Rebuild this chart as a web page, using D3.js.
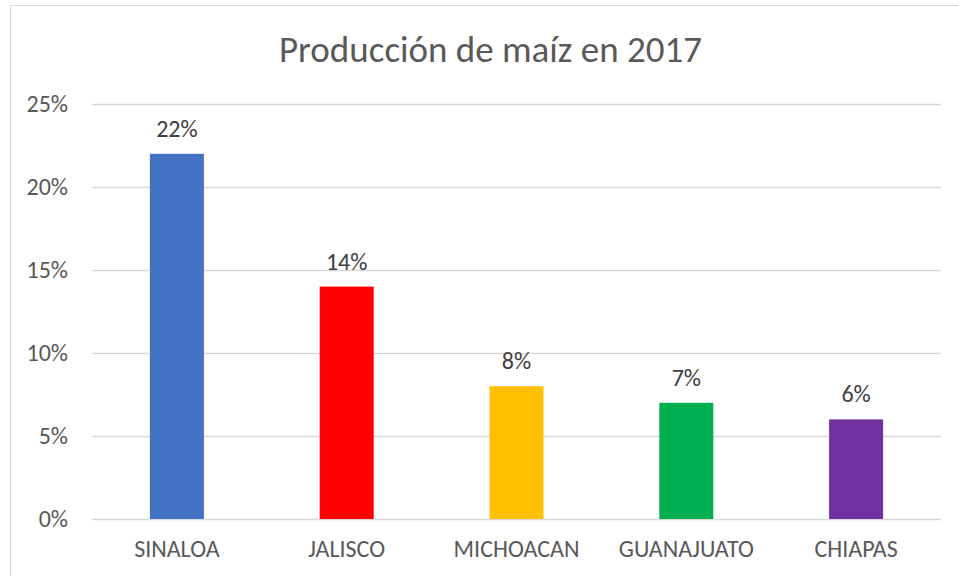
<!DOCTYPE html>
<html>
<head>
<meta charset="utf-8">
<script src="https://cdn.jsdelivr.net/npm/d3@7"></script>
<style>
  body { margin: 0; background: #fff; }
  svg text { font-family: Carlito, Calibri, Lato, sans-serif; fill: #595959; }
</style>
</head>
<body>
<svg id="chart" width="959" height="576"></svg>
<script>
const states = ["SINALOA", "JALISCO", "MICHOACAN", "GUANAJUATO", "CHIAPAS"];
const shares = [0.22, 0.14, 0.08, 0.07, 0.06];
const barColors = ["#4472C4", "#FF0000", "#FFC000", "#00B050", "#7030A0"];
const yTicks = [0, 0.05, 0.10, 0.15, 0.20, 0.25];

const svg = d3.select("#chart");
const data = states.map((s, i) => ({ state: s, value: shares[i], color: barColors[i] }));

// outer chart border (right/bottom edges fall off the page)
svg.append("rect")
    .attr("x", 10.5).attr("y", 5.5)
    .attr("width", 980).attr("height", 600)
    .attr("fill", "none")
    .attr("stroke", "#d9d9d9");

const x = d3.scaleBand()
    .domain(states)
    .range([92, 941])
    .paddingInner(0.682)
    .paddingOuter(0.341);

const y = d3.scaleLinear()
    .domain([0, 0.25])
    .range([519, 104]);

const fmt = d3.format(".0%");

// gridlines + y labels
svg.append("g")
    .attr("transform", "translate(92,0)")
    .call(d3.axisLeft(y).tickValues(yTicks).tickFormat(fmt).tickSize(-849).tickPadding(24))
    .call(g => g.select(".domain").remove())
    .call(g => g.selectAll(".tick line").attr("stroke", "#d9d9d9").attr("stroke-width", 1.3))
    .call(g => g.selectAll(".tick text").attr("font-size", 24).attr("fill", "#595959"));

// bars
svg.append("g")
    .selectAll("rect")
    .data(data)
    .join("rect")
    .attr("x", d => x(d.state))
    .attr("y", d => y(d.value))
    .attr("width", x.bandwidth())
    .attr("height", d => y(0) - y(d.value))
    .attr("fill", d => d.color);

// value labels
svg.append("g")
    .selectAll("text")
    .data(data)
    .join("text")
    .attr("x", d => x(d.state) + x.bandwidth() / 2)
    .attr("y", d => y(d.value) - 17)
    .attr("text-anchor", "middle")
    .attr("font-size", 24)
    .style("fill", "#404040")
    .text(d => fmt(d.value));

// x axis labels
svg.append("g")
    .attr("transform", "translate(0,519)")
    .call(d3.axisBottom(x).tickSize(0).tickPadding(21))
    .call(g => g.select(".domain").remove())
    .call(g => g.selectAll(".tick text").attr("font-size", 24).attr("fill", "#595959"));

// title
svg.append("text")
    .attr("x", 490.5)
    .attr("y", 62)
    .attr("text-anchor", "middle")
    .attr("font-size", 37)
    .text("Producción de maíz en 2017");
</script>
</body>
</html>
